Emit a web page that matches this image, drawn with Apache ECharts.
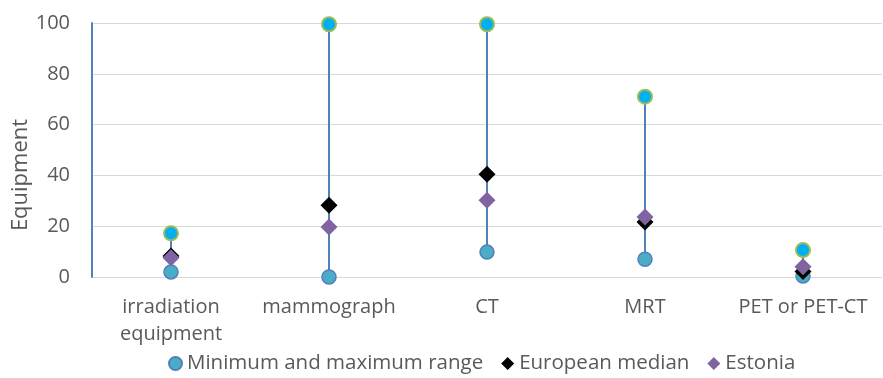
<!DOCTYPE html>
<html>
<head>
<meta charset="utf-8">
<script src="https://cdn.jsdelivr.net/npm/echarts@6/dist/echarts.min.js"></script>
<style>
  html, body { margin: 0; padding: 0; background: #fff; }
  #chart { width: 883px; height: 378px; }
</style>
</head>
<body>
<div id="chart"></div>
<script>
// Equipment counts per category
const categories = ['irradiation\nequipment', 'mammograph', 'CT', 'MRT', 'PET or PET-CT'];
const minValues = [2, 0, 9.8, 7, 0.4];
const maxValues = [17.2, 99.5, 99.5, 71, 10.6];
const europeanMedian = [8.3, 28.2, 40.5, 21.7, 2.2];
const estonia = [7.6, 19.7, 30.2, 23.6, 4];
const yTicks = [0, 20, 40, 60, 80, 100];

const FONT = 'Open Sans';
const TEXT = '#595959';

const chart = echarts.init(document.getElementById('chart'));

chart.setOption({
  animation: false,
  textStyle: { fontFamily: FONT },
  grid: { left: 92, right: 1, top: 23, bottom: 101, containLabel: false, outerBoundsMode: 'none' },
  legend: {
    bottom: -1,
    left: 163,
    itemGap: 18,
    itemWidth: 13,
    itemHeight: 13,
    textStyle: { fontFamily: FONT, fontSize: 20.5, color: TEXT },
    data: [
      { name: 'Minimum and maximum range', icon: 'circle' },
      { name: 'European median', icon: 'diamond' },
      { name: 'Estonia', icon: 'diamond' }
    ]
  },
  xAxis: {
    type: 'category',
    data: categories,
    axisLine: { show: false },
    axisTick: { show: false },
    axisLabel: { interval: 0, fontFamily: FONT, fontSize: 20, color: TEXT, margin: 17, lineHeight: 27 }
  },
  yAxis: {
    type: 'value',
    min: yTicks[0],
    max: yTicks[yTicks.length - 1],
    interval: 20,
    name: 'Equipment',
    nameLocation: 'middle',
    nameGap: 60,
    nameMoveOverlap: false,
    // extra right padding nudges the rotated title toward the bottom
    nameTextStyle: { fontFamily: FONT, fontSize: 22, color: TEXT, padding: [0, 50, 0, 0] },
    axisLine: { show: true, lineStyle: { color: '#4F81BD', width: 2 } },
    axisTick: { show: false },
    axisLabel: { fontFamily: FONT, fontSize: 20, color: TEXT, margin: 22 },
    splitLine: { lineStyle: { color: '#D9D9D9', width: 1 } }
  },
  series: [
    {
      // vertical range line from minimum to maximum
      type: 'custom',
      name: 'range',
      data: categories.map((c, i) => [i, minValues[i], maxValues[i]]),
      renderItem: function (params, api) {
        const a = api.coord([api.value(0), api.value(1)]);
        const b = api.coord([api.value(0), api.value(2)]);
        return {
          type: 'line',
          shape: { x1: a[0], y1: a[1], x2: b[0], y2: b[1] },
          style: { stroke: '#4F81BD', lineWidth: 2 }
        };
      },
      z: 1,
      silent: true
    },
    {
      type: 'scatter',
      name: 'Minimum and maximum range',
      data: minValues,
      symbol: 'circle',
      symbolSize: 14,
      itemStyle: { color: '#4BACC6', borderColor: '#4F81BD', borderWidth: 1.5, opacity: 1 },
      z: 2
    },
    {
      type: 'scatter',
      name: 'Minimum and maximum range',
      data: maxValues,
      symbol: 'circle',
      symbolSize: 14,
      itemStyle: { color: '#00B0F0', borderColor: '#9BBB59', borderWidth: 2, opacity: 1 },
      z: 2
    },
    {
      type: 'scatter',
      name: 'European median',
      data: europeanMedian,
      symbol: 'diamond',
      symbolSize: [17, 17],
      itemStyle: { color: '#000000', opacity: 1 },
      z: 3
    },
    {
      type: 'scatter',
      name: 'Estonia',
      data: estonia,
      symbol: 'diamond',
      symbolSize: [17, 17],
      itemStyle: { color: '#8064A2', opacity: 1 },
      z: 4
    }
  ]
});
</script>
</body>
</html>
